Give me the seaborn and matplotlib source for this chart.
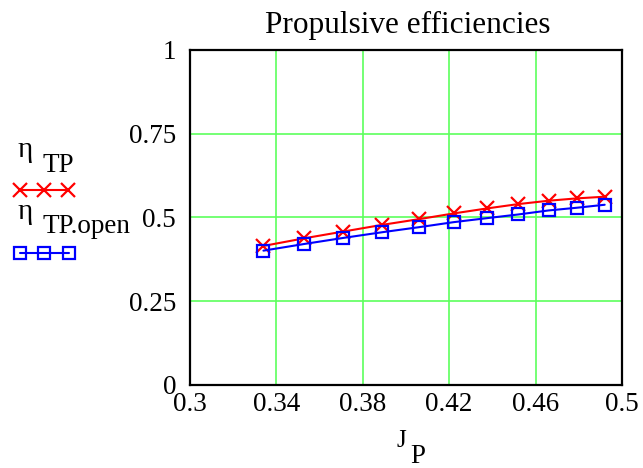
import matplotlib
matplotlib.use("Agg")
import matplotlib.pyplot as plt
import seaborn as sns
import pandas as pd
from matplotlib.lines import Line2D

# Advance ratio and propulsive efficiencies
j_p = [0.334, 0.353, 0.371, 0.389, 0.406, 0.422, 0.4375, 0.452, 0.466, 0.479, 0.492]
eta_tp = [0.415, 0.438, 0.458, 0.478, 0.495, 0.512, 0.527, 0.540, 0.550, 0.557, 0.562]
eta_tp_open = [0.401, 0.421, 0.439, 0.456, 0.471, 0.486, 0.498, 0.509, 0.521, 0.529, 0.538]

x_ticks = [0.3, 0.34, 0.38, 0.42, 0.46, 0.5]
y_ticks = [0, 0.25, 0.5, 0.75, 1]
y_tick_labels = ["0", "0.25", "0.5", "0.75", "1"]

sns.set_theme(style="white")
plt.rcParams["font.family"] = ["Liberation Serif", "DejaVu Serif"]
plt.rcParams["text.color"] = "black"

df = pd.DataFrame({
    "J": j_p * 2,
    "eta": eta_tp + eta_tp_open,
    "series": ["TP"] * len(j_p) + ["TP.open"] * len(j_p),
})

fig = plt.figure(figsize=(6.43, 4.68), dpi=100)
ax = fig.add_axes([0.2955, 0.1774, 0.6718, 0.7158])

red = "#ff0000"
blue = "#0000ff"
sns.lineplot(data=df[df.series == "TP"], x="J", y="eta", ax=ax, color=red,
             lw=1.5, marker="x", markersize=10, markeredgewidth=1.6,
             markeredgecolor=red, legend=False, zorder=3)
sns.lineplot(data=df[df.series == "TP.open"], x="J", y="eta", ax=ax, color=blue,
             lw=1.5, marker="s", markersize=9, markeredgewidth=1.6,
             markerfacecolor="none", markeredgecolor=blue, legend=False, zorder=4)

ax.set_xlim(0.3, 0.5)
ax.set_ylim(0, 1)
ax.set_xticks(x_ticks)
ax.set_xticklabels([f"{t:g}" for t in x_ticks])
ax.set_yticks(y_ticks)
ax.set_yticklabels(y_tick_labels)
ax.tick_params(axis="both", length=0, labelsize=19.5, colors="black")
ax.tick_params(axis="x", pad=5)
ax.tick_params(axis="y", pad=10)
ax.grid(True, color="#5cff5c", lw=1.2)
for s in ax.spines.values():
    s.set_color("black")
    s.set_linewidth(1.6)
ax.set_xlabel("")
ax.set_ylabel("")

# Title and axis label
fig.text(0.6345, 0.9295, "Propulsive efficiencies", ha="center", va="baseline",
         fontsize=22.5, color="black")
fig.text(0.624, 0.045, "J", ha="center", va="baseline", fontsize=18, color="black")
fig.text(0.649, 0.011, "P", ha="center", va="baseline", fontsize=19.5, color="black")

# Legend at the left
fig.text(0.027, 0.664, "η", ha="left", va="baseline", fontsize=21, color="black")
fig.text(0.066, 0.6325, "TP", ha="left", va="baseline", fontsize=19.5, color="black")
fig.text(0.027, 0.532, "η", ha="left", va="baseline", fontsize=21, color="black")
fig.text(0.066, 0.502, "TP.open", ha="left", va="baseline", fontsize=19.5, color="black")
fig.add_artist(Line2D([0.031, 0.069, 0.106], [0.594, 0.594, 0.594], transform=fig.transFigure,
                      color=red, lw=1.5, marker="x", markersize=10, markeredgewidth=1.6))
fig.add_artist(Line2D([0.031, 0.069, 0.107], [0.459, 0.459, 0.459], transform=fig.transFigure,
                      color=blue, lw=1.5, marker="s", markersize=8, markeredgewidth=1.6,
                      markerfacecolor="none"))

fig.savefig("out.png", dpi=100)
